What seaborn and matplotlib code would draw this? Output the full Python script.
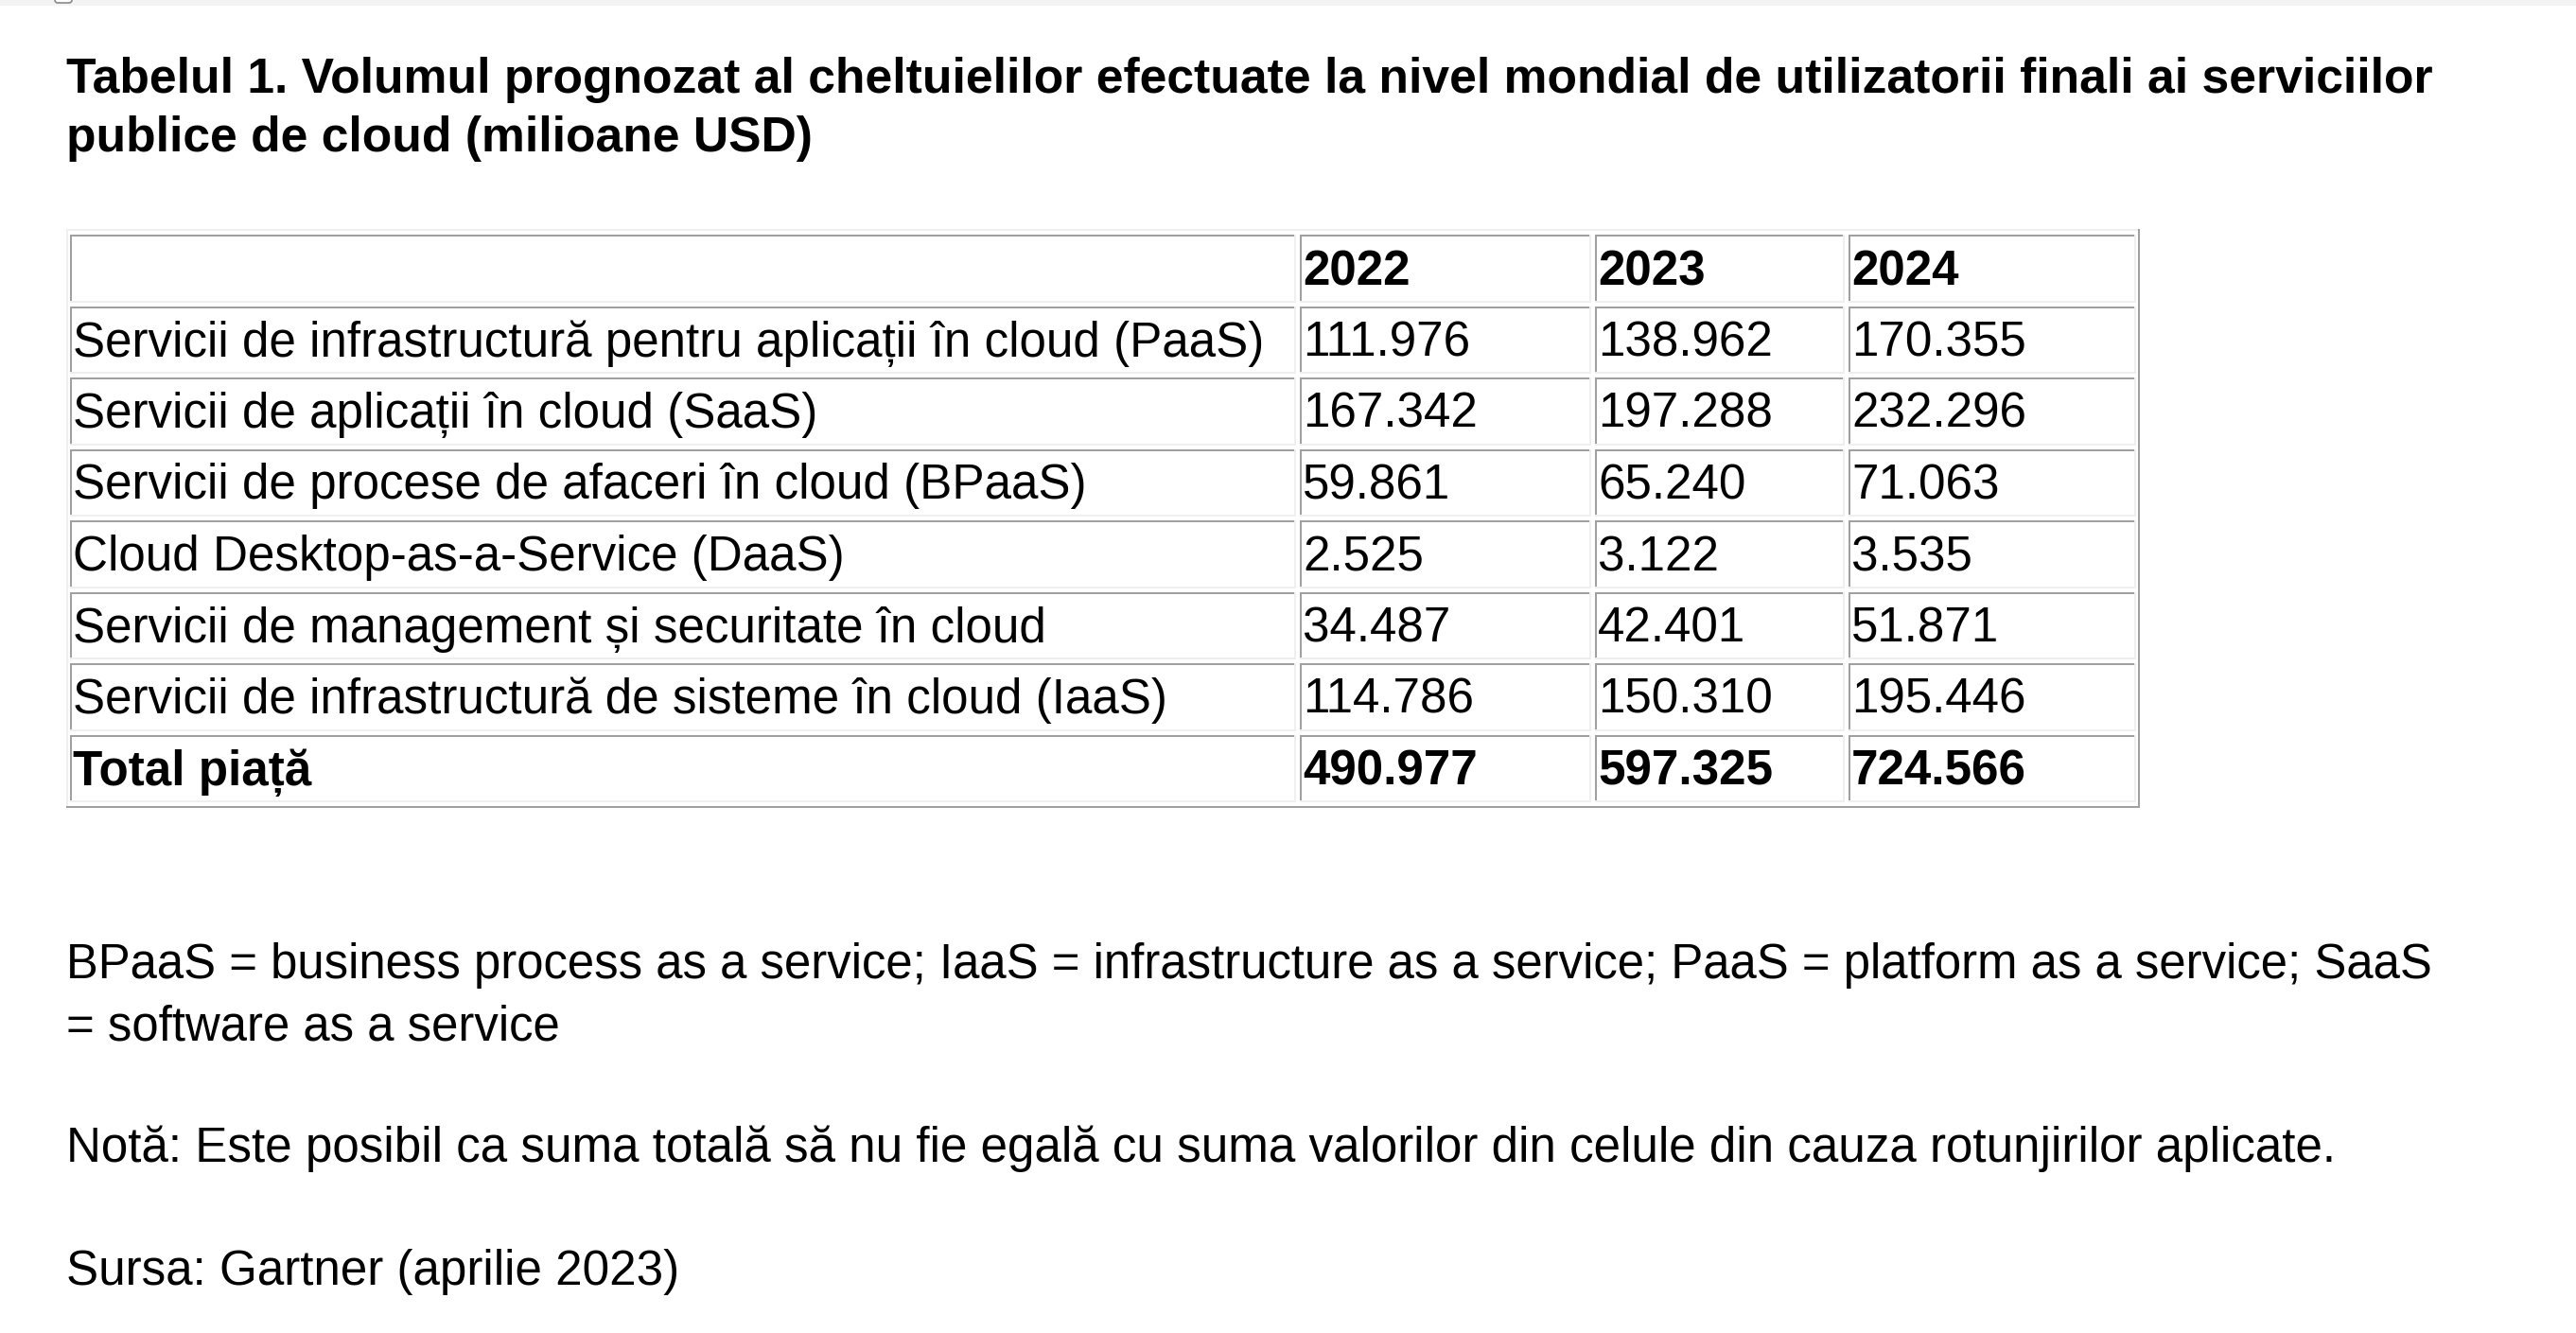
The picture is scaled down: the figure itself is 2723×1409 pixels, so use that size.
import matplotlib
matplotlib.use("Agg")
import matplotlib.pyplot as plt
from matplotlib.patches import Rectangle, FancyBboxPatch
import seaborn as sns
import pandas as pd

# ---------------- data ----------------
title_lines = [
    "Tabelul 1. Volumul prognozat al cheltuielilor efectuate la nivel mondial de utilizatorii finali ai serviciilor",
    "publice de cloud (milioane USD)",
]
years = ["2022", "2023", "2024"]
categories = [
    "Servicii de infrastructură pentru aplicații în cloud (PaaS)",
    "Servicii de aplicații în cloud (SaaS)",
    "Servicii de procese de afaceri în cloud (BPaaS)",
    "Cloud Desktop-as-a-Service (DaaS)",
    "Servicii de management și securitate în cloud",
    "Servicii de infrastructură de sisteme în cloud (IaaS)",
    "Total piață",
]
paas = [111976, 138962, 170355]
saas = [167342, 197288, 232296]
bpaas = [59861, 65240, 71063]
daas = [2525, 3122, 3535]
mgmt = [34487, 42401, 51871]
iaas = [114786, 150310, 195446]
total = [490977, 597325, 724566]
footnote_lines = [
    "BPaaS = business process as a service; IaaS = infrastructure as a service; PaaS = platform as a service; SaaS",
    "= software as a service",
]
note_text = "Notă: Este posibil ca suma totală să nu fie egală cu suma valorilor din celule din cauza rotunjirilor aplicate."
source_text = "Sursa: Gartner (aprilie 2023)"

df = pd.DataFrame([paas, saas, bpaas, daas, mgmt, iaas, total],
                  index=categories, columns=years)

# ---------------- style ----------------
sns.set_theme(style="white")
plt.rcParams["font.family"] = ["Liberation Sans", "DejaVu Sans"]

W, H = 2723, 1409
fig = plt.figure(figsize=(W / 100, H / 100), dpi=100)
fig.patch.set_facecolor("white")
ax = fig.add_axes([0, 0, 1, 1])
ax.set_xlim(0, W)
ax.set_ylim(H, 0)
ax.axis("off")

DARK = "#a0a0a0"
LIGHT = "#efefef"
FS = 36.8      # body font size (pt)
FS_F = 36.6    # footnote font size (pt)
FS_T = 37.2    # title font size (pt)

def rect(x, y, w, h, c):
    ax.add_patch(Rectangle((x, y), w, h, facecolor=c, edgecolor="none", lw=0))

# browser top strip + checkbox
rect(0, 0, W, 6, "#f3f3f3")
ax.add_patch(FancyBboxPatch((58, -8), 18, 11, boxstyle="round,pad=0,rounding_size=3",
                            facecolor="white", edgecolor="#8a8a8a", lw=1.2))

# title
for i, line in enumerate(title_lines):
    ax.text(70, 98 + i * 62, line, fontsize=FS_T, fontweight="bold",
            ha="left", va="baseline", color="black")

# table geometry (layout)
col_left = [74, 1374, 1686, 1954]
col_right = [1370, 1682, 1950, 2258]
row_top0, row_pitch, row_h = 248, 75.5, 71.5
bw = 2

def cell_border(x0, y0, x1, y1, inset=True):
    tl, br = (DARK, LIGHT) if inset else (LIGHT, DARK)
    rect(x0, y0, x1 - x0, bw, tl)
    rect(x0, y0, bw, y1 - y0, tl)
    rect(x0, y1 - bw, x1 - x0, bw, br)
    rect(x1 - bw, y0, bw, y1 - y0, br)

n_rows = len(df) + 1
# outer table border (outset)
cell_border(70, 242, 2262, 854, inset=False)

for r in range(n_rows):
    y0 = row_top0 + r * row_pitch
    y1 = y0 + row_h
    for c in range(4):
        cell_border(col_left[c], y0, col_right[c], y1, inset=True)

    base = y0 + 53
    if r == 0:
        for c, yr in enumerate(years):
            ax.text(col_left[c + 1] + 3, base, yr, fontsize=FS, fontweight="bold",
                    ha="left", va="baseline", color="black")
    else:
        cat = df.index[r - 1]
        bold = cat == "Total piață"
        ax.text(col_left[0] + 3, base, cat, fontsize=FS,
                fontweight="bold" if bold else "normal",
                ha="left", va="baseline", color="black")
        for c, yr in enumerate(years):
            s = f"{df.loc[cat, yr]:,}".replace(",", ".")
            ax.text(col_left[c + 1] + 3, base, s, fontsize=FS,
                    fontweight="bold" if bold else "normal",
                    ha="left", va="baseline", color="black")

# footnotes
for i, line in enumerate(footnote_lines):
    ax.text(70, 1034 + i * 66, line, fontsize=FS_F, ha="left", va="baseline", color="black")
ax.text(70, 1228, note_text, fontsize=FS, ha="left", va="baseline", color="black")
ax.text(70, 1358, source_text, fontsize=FS, ha="left", va="baseline", color="black")

fig.savefig("out.png", dpi=100, facecolor="white")
